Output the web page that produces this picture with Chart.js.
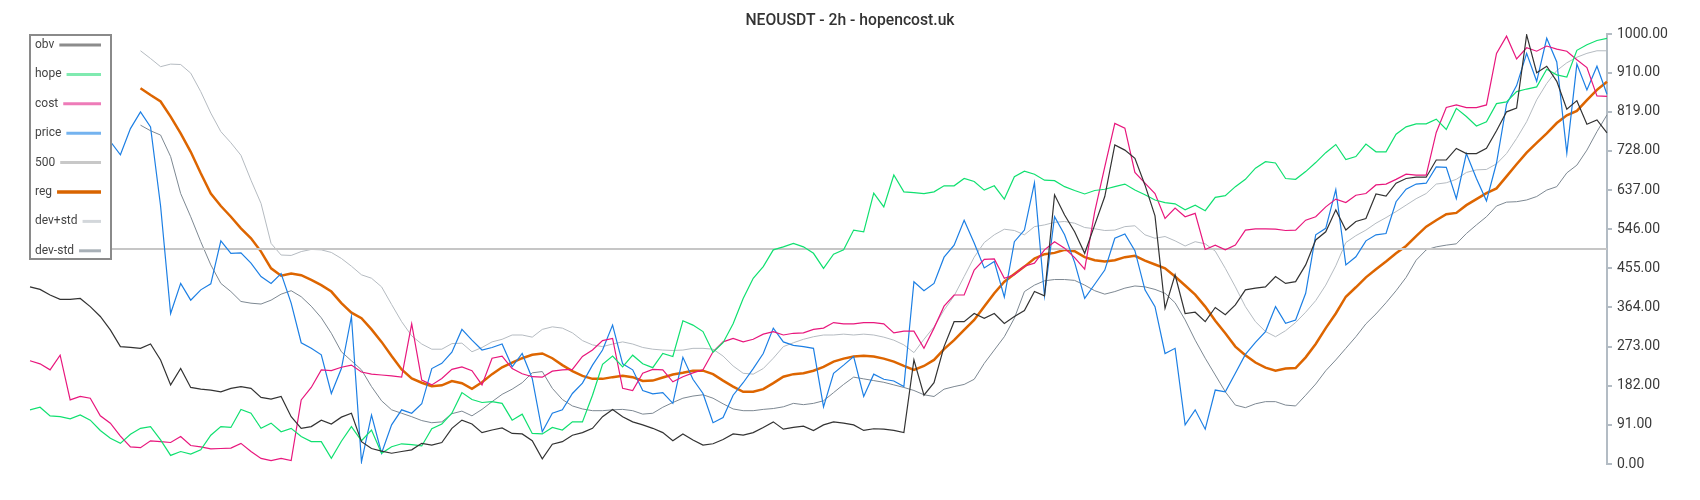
<!DOCTYPE html>
<html><head><meta charset="utf-8">
<script src="https://cdn.jsdelivr.net/npm/chart.js@4.4.1/dist/chart.umd.min.js"></script>
<style>html,body{margin:0;padding:0;background:#fff}</style>
</head><body>
<canvas id="c" width="1700" height="500"></canvas>
<script>
const chartTitle = 'NEOUSDT - 2h - hopencost.uk';
const yTicks = [0, 91, 182, 273, 364, 455, 546, 637, 728, 819, 910, 1000];

const obv = [
412,406,393,383,383,385,366,343,312,273,
271,269,279,242,184,222,178,174,172,168,
176,180,176,155,151,157,110,83,87,102,
93,109,118,52,36,30,25,29,33,48,
44,50,83,102,93,73,79,84,71,70,
54,12,46,52,67,73,83,110,127,110,
98,91,83,73,54,70,56,44,47,57,
70,67,73,85,98,81,85,88,78,91,
98,95,91,78,82,81,78,73,242,160,
189,273,331,331,350,339,350,327,343,357,
401,391,626,579,540,490,556,622,742,730,
711,649,577,362,440,350,353,331,364,347,
370,405,409,412,436,420,424,463,521,540,
591,544,564,571,628,623,653,664,667,667,
707,707,734,722,722,734,775,819,828,998,
910,925,890,825,845,790,800,770];

const hope = [
126,132,112,110,105,114,102,78,60,48,
69,83,87,56,20,29,23,33,67,87,
85,127,118,83,95,75,83,64,52,52,
13,53,87,54,79,25,40,47,45,42,
82,93,118,166,150,143,145,141,102,116,
71,70,85,79,98,98,160,232,251,226,
253,233,224,257,250,333,323,308,260,282,
326,385,432,459,498,505,513,505,490,455,
488,498,544,540,630,598,672,633,631,629,
633,647,647,664,657,637,647,616,668,681,
674,660,659,645,636,628,636,639,645,651,
637,626,614,608,605,591,602,589,620,624,
645,662,688,703,700,664,662,680,701,724,
743,708,715,744,726,726,767,784,791,791,
802,778,827,808,786,796,838,842,866,872,
877,918,905,900,962,975,985,990];

const cost = [
240,233,219,253,149,157,153,112,95,65,
40,38,54,52,50,64,43,40,35,36,
37,48,29,13,8,13,8,149,178,219,
217,225,230,214,209,207,205,202,326,195,
184,199,220,226,217,184,246,251,222,210,
203,202,216,219,220,250,265,287,292,176,
171,211,220,219,191,203,212,219,261,284,
292,284,290,302,308,300,304,305,313,316,
329,326,326,329,329,326,305,309,309,269,
316,367,393,393,451,476,477,432,440,460,
467,498,517,502,480,453,587,691,792,781,
678,653,629,571,595,575,583,499,509,498,
509,544,547,547,546,543,544,567,575,598,
616,608,625,629,649,651,662,674,672,672,
771,829,835,829,829,835,955,995,942,968,
960,972,965,960,940,922,856,855];

const price = [
760,770,750,780,760,740,770,755,750,719,
780,819,784,600,350,420,381,405,419,519,
490,491,467,436,420,443,374,282,269,254,
164,222,343,5,114,25,91,126,118,140,
222,234,260,313,288,265,271,279,226,257,
199,75,118,126,164,188,230,265,323,233,
219,171,163,166,141,248,197,164,96,108,
160,189,222,257,316,284,276,273,269,133,
211,230,250,157,209,197,193,180,424,403,
420,481,509,567,514,456,471,388,517,544,
654,391,575,533,469,385,418,451,525,535,
496,405,366,257,269,91,126,81,172,168,
211,255,283,308,366,327,335,397,533,548,
638,463,482,519,533,536,610,639,651,653,
691,690,617,722,664,612,700,837,880,955,
890,990,935,723,930,870,925,860];

const level500 = [
500,500,500,500,500,500,500,500,500,500,
500,500,500,500,500,500,500,500,500,500,
500,500,500,500,500,500,500,500,500,500,
500,500,500,500,500,500,500,500,500,500,
500,500,500,500,500,500,500,500,500,500,
500,500,500,500,500,500,500,500,500,500,
500,500,500,500,500,500,500,500,500,500,
500,500,500,500,500,500,500,500,500,500,
500,500,500,500,500,500,500,500,500,500,
500,500,500,500,500,500,500,500,500,500,
500,500,500,500,500,500,500,500,500,500,
500,500,500,500,500,500,500,500,500,500,
500,500,500,500,500,500,500,500,500,500,
500,500,500,500,500,500,500,500,500,500,
500,500,500,500,500,500,500,500,500,500,
500,500,500,500,500,500,500,500];

const reg = [
null,null,null,null,null,null,null,null,null,null,
null,874,858,843,808,769,726,676,629,600,
575,548,525,494,455,438,443,439,428,416,
401,374,352,339,313,284,251,220,199,189,
181,183,193,188,175,190,209,225,236,246,
254,257,246,230,216,205,198,198,202,205,
202,193,194,201,208,212,217,217,209,194,
180,168,168,174,188,203,209,211,217,226,
238,245,250,252,250,245,238,228,219,228,
242,267,288,312,335,366,397,424,442,459,
478,488,491,498,495,481,474,471,474,481,
484,473,464,455,436,415,394,366,333,304,
273,253,236,224,217,222,223,248,279,316,
350,389,411,434,453,471,490,507,530,552,
567,581,584,602,616,630,641,669,697,724,
747,769,793,811,821,846,870,889];

const devPlus = [
null,null,null,null,null,null,null,null,null,null,
null,961,943,924,930,929,909,866,816,773,
747,718,660,606,513,486,485,494,499,498,
492,478,460,440,432,412,371,331,298,279,
267,267,280,281,261,271,284,290,300,300,
295,313,319,316,305,287,277,273,279,284,
279,271,267,265,264,265,269,269,267,251,
228,211,209,222,246,273,282,290,296,300,
300,302,300,302,300,295,288,277,259,290,
319,358,391,436,481,515,533,546,543,533,
552,556,562,564,560,550,547,543,544,552,
554,533,525,529,519,507,517,512,495,455,
412,366,331,308,296,310,329,353,380,416,
461,515,531,544,560,573,587,602,617,629,
651,654,662,678,684,685,698,722,757,796,
847,885,915,933,946,955,961,961];

const devMinus = [
null,null,null,null,null,null,null,null,null,null,
null,788,775,765,715,629,575,517,463,420,
401,378,374,372,381,395,403,389,367,340,
304,261,240,219,180,147,126,118,110,101,
96,98,117,123,112,127,145,162,174,189,
212,215,176,150,135,128,124,124,126,127,
124,116,118,132,143,153,158,161,153,140,
128,124,124,127,129,133,141,138,141,147,
166,185,202,198,194,190,184,178,171,161,
157,174,180,185,197,234,265,296,339,401,
416,426,429,429,427,416,403,395,401,409,
414,412,406,397,375,335,288,246,207,168,
137,131,140,145,145,137,135,160,186,217,
242,269,296,326,349,375,403,434,474,498,
505,509,512,536,556,575,600,609,610,614,
622,637,645,677,695,730,773,812];

const labels = obv.map((_, i) => i);

function ds(label, data, color, width, legendColor, legendWidth) {
  return { label, data, borderColor: color, borderWidth: width, pointRadius: 0,
    pointHoverRadius: 0, fill: false, tension: 0, legendColor, legendWidth };
}

const datasets = [
  ds('obv', obv, '#333333', 1.2, '#8c8c8c', 3),
  ds('hope', hope, '#10e070', 1.2, '#80eab0', 3),
  ds('cost', cost, '#e8177d', 1.2, '#ee7bb8', 3),
  ds('price', price, '#1c7fe4', 1.2, '#74b3ef', 3),
  ds('500', level500, '#c6c6c6', 2, '#c8c8c8', 3),
  ds('reg', reg, '#dd6500', 2.5, '#d96400', 3.5),
  ds('dev+std', devPlus, '#b5bbc1', 1, '#d3d7db', 3),
  ds('dev-std', devMinus, '#7d8892', 1, '#a8b0b7', 3)
];

const boxLegend = {
  id: 'boxLegend',
  afterDraw(chart) {
    const ctx = chart.ctx;
    ctx.save();
    // title
    ctx.font = '500 15.7px Roboto';
    ctx.fillStyle = '#333333';
    ctx.textAlign = 'center';
    ctx.textBaseline = 'middle';
    ctx.fillText(chartTitle, 850, 21);
    // legend box
    ctx.fillStyle = '#ffffff';
    ctx.fillRect(30, 35, 81, 224);
    ctx.strokeStyle = '#8a8a8a';
    ctx.lineWidth = 2;
    ctx.strokeRect(30, 35, 81, 224);
    ctx.font = '12px Roboto';
    ctx.textAlign = 'left';
    chart.data.datasets.forEach((d, i) => {
      const y = 45 + i * 29.4;
      ctx.fillStyle = '#444444';
      ctx.fillText(d.label, 35, y);
      const w = ctx.measureText(d.label).width;
      ctx.beginPath();
      ctx.moveTo(35 + w + 5, y);
      ctx.lineTo(101, y);
      ctx.strokeStyle = d.legendColor;
      ctx.lineWidth = d.legendWidth;
      ctx.stroke();
    });
    ctx.restore();
  }
};

new Chart(document.getElementById('c'), {
  type: 'line',
  data: { labels, datasets },
  options: {
    responsive: false,
    animation: false,
    devicePixelRatio: 1,
    events: [],
    layout: { padding: { left: 30, right: 0, top: 34, bottom: 36 } },
    plugins: { legend: { display: false }, title: { display: false }, tooltip: { enabled: false } },
    scales: {
      x: { type: 'category', display: false, offset: false },
      y: {
        position: 'right', min: 0, max: 1000,
        afterBuildTicks: s => { s.ticks = yTicks.map(v => ({ value: v })); },
        afterFit: s => { s.width = 93; },
        ticks: { callback: v => Number(v).toFixed(2), font: { family: 'Roboto', size: 14 }, color: '#3a3a3a', padding: 5 },
        grid: { display: true, drawOnChartArea: false, drawTicks: true, tickLength: 5, color: '#b3bcc4', lineWidth: 2 },
        border: { display: true, color: '#b3bcc4', width: 2 }
      }
    }
  },
  plugins: [boxLegend]
});
</script>
</body></html>
